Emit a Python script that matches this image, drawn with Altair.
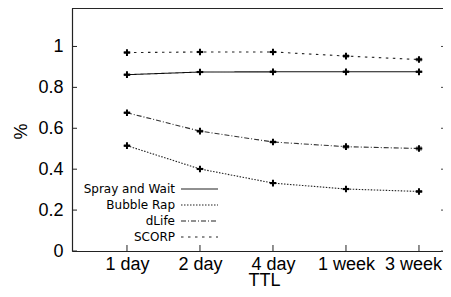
import json
import altair as alt
import pandas as pd

# ---- data ----
ttl_labels = ["1 day", "2 day", "4 day", "1 week", "3 week"]
series_names = ["Spray and Wait", "Bubble Rap", "dLife", "SCORP"]
spray_and_wait = [0.862, 0.875, 0.876, 0.876, 0.876]
bubble_rap = [0.515, 0.401, 0.332, 0.303, 0.291]
dlife = [0.676, 0.586, 0.533, 0.510, 0.501]
scorp = [0.970, 0.973, 0.973, 0.953, 0.936]
errors = {
    "Spray and Wait": [0.003, 0.003, 0.003, 0.003, 0.003],
    "Bubble Rap": [0.003, 0.003, 0.003, 0.003, 0.004],
    "dLife": [0.003, 0.004, 0.004, 0.006, 0.007],
    "SCORP": [0.003, 0.003, 0.003, 0.005, 0.006],
}
y_ticks = [0, 0.2, 0.4, 0.6, 0.8, 1.0]

values = {
    "Spray and Wait": spray_and_wait,
    "Bubble Rap": bubble_rap,
    "dLife": dlife,
    "SCORP": scorp,
}
rows = []
for s in series_names:
    for i, v in enumerate(values[s]):
        e = errors[s][i]
        rows.append({"series": s, "idx": i, "ttl": ttl_labels[i], "value": v,
                     "lo": v - e, "hi": v + e})
df = pd.DataFrame(rows)
xt = pd.DataFrame({"idx": list(range(len(ttl_labels)))})
yt = pd.DataFrame({"v": y_ticks})

W, H = 371, 243
dashes = [[1, 0], [1.5, 1.5], [5, 2, 1, 2], [2.5, 4.5]]
TICKFONT = "Liberation Sans"
last_idx = len(ttl_labels) - 1

xscale = alt.Scale(domain=[-0.753, 4.329], nice=False, zero=False)
yscale = alt.Scale(domain=[0, 1.188], nice=False, zero=True)
label_expr = json.dumps(ttl_labels) + "[datum.value]"

xenc = alt.X("idx:Q", scale=xscale,
             axis=alt.Axis(values=list(range(len(ttl_labels))), labelExpr=label_expr,
                           title="TTL", ticks=False, tickSize=0, grid=False,
                           labelFont=TICKFONT, labelFontSize=18, labelColor="black",
                           labelPadding=4,
                           labelOffset={"condition": {"test": f"datum.value == {last_idx}",
                                                      "value": -6}, "value": 0},
                           titleFont=TICKFONT, titleFontSize=18,
                           titleFontWeight="normal", titleColor="black",
                           titleX=192, titleY=34, titleBaseline="alphabetic",
                           titleAlign="center",
                           domainColor="#222", domainWidth=1.2,
                           labelFlush=False, labelOverlap=False))
yenc = alt.Y("value:Q", scale=yscale,
             axis=alt.Axis(values=y_ticks, format="~g", title="%", ticks=False, tickSize=0,
                           grid=False, labelFont=TICKFONT, labelFontSize=18,
                           labelColor="black", labelPadding=9, titleFont=TICKFONT,
                           titleFontSize=18, titleFontWeight="normal", titleColor="black",
                           titleX=-46, titleY=123, titleAngle=270,
                           titleBaseline="alphabetic", titleAlign="center",
                           domainColor="#222", domainWidth=1.2,
                           labelFlush=False, labelOverlap=False))

base = alt.Chart(df)
lines = base.mark_line(strokeWidth=1.1).encode(
    x=xenc, y=yenc,
    color=alt.Color("series:N", scale=alt.Scale(domain=series_names,
                    range=["#111", "#222", "#333", "#222"]), legend=None),
    strokeDash=alt.StrokeDash("series:N", scale=alt.Scale(domain=series_names, range=dashes),
                              legend=None),
    detail="series:N",
)
plus_path = "M-1,-0.3H-0.3V-1H0.3V-0.3H1V0.3H0.3V1H-0.3V0.3H-1Z"
points = base.mark_point(shape=plus_path, filled=True, size=44, color="black", opacity=1,
                         strokeWidth=0).encode(x="idx:Q", y="value:Q")
cap_lo = base.mark_tick(orient="horizontal", size=6, thickness=1, color="black").encode(
    x="idx:Q", y="lo:Q")
cap_hi = base.mark_tick(orient="horizontal", size=6, thickness=1, color="black").encode(
    x="idx:Q", y="hi:Q")
bars = base.mark_rule(color="black", strokeWidth=1).encode(x="idx:Q", y="lo:Q", y2="hi:Q")

top_border = alt.Chart(xt).mark_rule(color="#222", strokeWidth=1.2).encode(
    x=alt.value(0), x2=alt.value(W), y=alt.value(0))
x_ticks = alt.Chart(xt).mark_rule(color="#222", strokeWidth=1).encode(
    x="idx:Q", y=alt.value(H), y2=alt.value(H - 6))
y_ticks_l = alt.Chart(yt).mark_rule(color="#222", strokeWidth=1).encode(
    y="v:Q", x=alt.value(0), x2=alt.value(5))
y_ticks_r = alt.Chart(yt).mark_rule(color="#444", strokeWidth=1).encode(
    y="v:Q", x=alt.value(W - 2), x2=alt.value(W))

legend_layers = []
leg = pd.DataFrame({"series": series_names})
for i, s in enumerate(series_names):
    yy = 181 + 16 * i
    legend_layers.append(
        alt.Chart(leg[leg.series == s]).mark_text(align="right", baseline="middle",
                                                   font="DejaVu Sans", fontSize=12,
                                                   color="black").encode(
            text="series:N", x=alt.value(103), y=alt.value(yy)))
    legend_layers.append(
        alt.Chart(leg[leg.series == s]).mark_rule(color="#222", strokeWidth=1.1,
                                                  strokeDash=dashes[i]).encode(
            x=alt.value(109), x2=alt.value(146), y=alt.value(yy)))

chart = alt.layer(lines, bars, cap_lo, cap_hi, points, top_border, x_ticks, y_ticks_l,
                  y_ticks_r, *legend_layers).properties(
    width=W, height=H,
    autosize=alt.AutoSizeParams(type="none"),
    padding={"left": 64, "top": 0, "right": 0, "bottom": 38},
).configure_view(stroke=None).configure(background="white")

chart.save("out.html", embed_options={"renderer": "svg", "actions": False})
